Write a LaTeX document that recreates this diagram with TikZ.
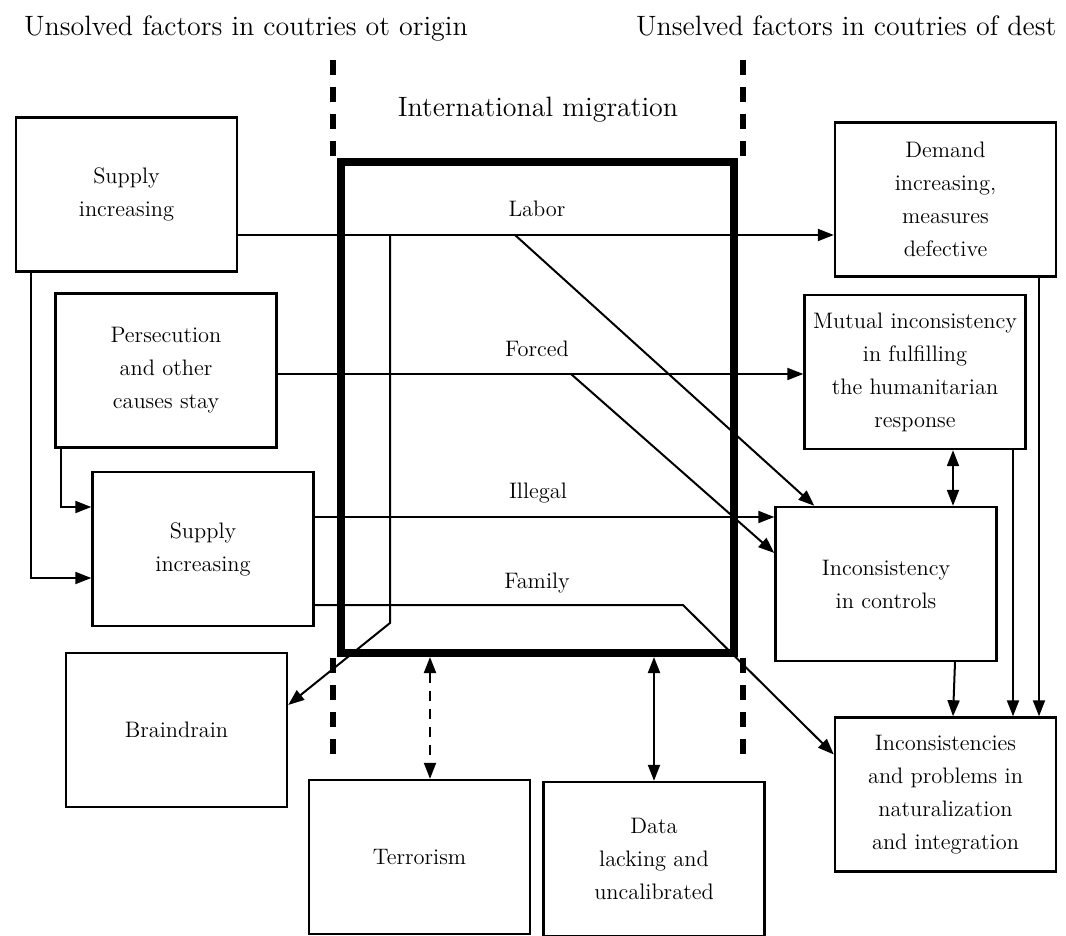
\documentclass[tikz,border=0pt]{standalone}
\usepackage{fontspec}
\usepackage{tikz}
\usetikzlibrary{positioning}
\usetikzlibrary{arrows.meta,calc}

\begin{document}
\begin{tikzpicture}[x=0.5pt,y=-0.5pt]
\tikzstyle{box}=[draw,line width=1.2pt,rectangle,minimum width=110.5pt,minimum height=77pt,inner sep=0pt,align=center,font=\fontsize{11.2}{16.5}\selectfont]
\tikzstyle{flow}=[line width=1pt,-{Triangle[length=8pt,width=6pt]}]
\tikzstyle{both}=[line width=1pt,{Triangle[length=8pt,width=6pt]}-{Triangle[length=8pt,width=6pt]}]
\tikzstyle{lbl}=[anchor=base,font=\fontsize{11.2}{13}\selectfont]
\tikzstyle{border}=[line width=3pt,dash pattern=on 7.5pt off 6pt]
\useasboundingbox (0,0) rectangle (1066,936);

% headings
\node [anchor=base west,font=\fontsize{14}{17}\selectfont] (origin) at (17,36) {Unsolved factors in coutries ot origin};
\node [anchor=base west,font=\fontsize{14}{17}\selectfont] (dest) at (629,36) {Unselved factors in coutries of dest};
\node [anchor=base,font=\fontsize{14}{17}\selectfont] (title) at (538,117) {International migration};

% the migration frame and the borders
\node [draw,line width=4pt,minimum width=196.5pt,minimum height=245.5pt,inner sep=0pt] (mig) at (537.5,407.5) {};
\foreach \x in {333,743} {
    \draw [border] (\x,60) -- (\x,157);
    \draw [border] (\x,658) -- (\x,754);
  }

% origin side
\node [box] (s1) at (126.5,194.5) {Supply\\increasing};
\node [box] (pers) at (166,370.5) {Persecution\\and other\\causes stay};
\node [box] (s2) at (203,549) {Supply\\increasing};
\node [box] (brain) at (176.5,730) {Braindrain};
\node [box] (terr) at (419.5,857) {Terrorism};
\node [box] (data) at (654,859) {Data\\lacking and\\uncalibrated};
% destination side
\node [box] (demand) at (945.5,199.5) {Demand\\increasing,\\measures\\defective};
\node [box] (mutual) at (915,372) {Mutual inconsistency\\in fulfilling\\the humanitarian\\response};
\node [box] (controls) at (886,584) {Inconsistency\\in controls};
\node [box] (incons) at (945.5,794.5) {Inconsistencies\\and problems in\\naturalization\\and integration};

\node [lbl] (labor) at (537,217) {Labor};
\node [lbl] (forced) at (537,357) {Forced};
\node [lbl] (illegal) at (538,498) {Illegal};
\node [lbl] (family) at (537,588) {Family};

\coordinate (lrow) at (0,235);
\coordinate (frow) at (0,374);
\coordinate (tap) at (390,235);
\coordinate (bend) at (390,623);
\coordinate (ldiag) at (515,235);
\coordinate (fdiag) at (571,374);
\coordinate (fbend) at (683,605);
\coordinate (mc) at ($(controls.north)+(67,0)$);

\draw [flow] (s1.east |- lrow) -- (demand.west |- lrow);
\draw [flow] (pers.east |- frow) -- (mutual.west |- frow);
\draw [flow] ($(s2.east)+(0,-32)$) -- ($(s2.east -| controls.west)+(0,-32)$);
\draw [flow] ($(s2.east)+(0,56)$) -- (fbend) -- ($(incons.west)+(0,-40)$);
\draw [flow] (tap) -- (bend) -- ($(brain.east)+(0,-25)$);
\draw [flow] (ldiag) -- ($(controls.north west)+(40,0)$);
\draw [flow] (fdiag) -- ($(controls.west)+(0,-31)$);
\draw [flow] ($(pers.south west)+(7,0)$) |- ($(s2.west)+(0,-42)$);
\draw [flow] ($(s1.south west)+(16,0)$) |- ($(s2.west)+(0,29)$);

\draw [both] (mc) -- (mc |- mutual.south);
\draw [flow] ($(controls.south)+(69,0)$) -- ($(incons.north)+(7.5,0)$);
\draw [flow] ($(mutual.south)+(98,0)$) -- ($(mutual.south |- incons.north)+(98,0)$);
\draw [flow] ($(demand.south)+(93.5,0)$) -- ($(demand.south |- incons.north)+(93.5,0)$);

\draw [both,dash pattern=on 5pt off 4pt] ($(terr.north |- mig.south)+(10.5,0)$) -- ($(terr.north)+(10.5,0)$);
\draw [both] (data.north |- mig.south) -- (data.north);
\end{tikzpicture}
\end{document}
